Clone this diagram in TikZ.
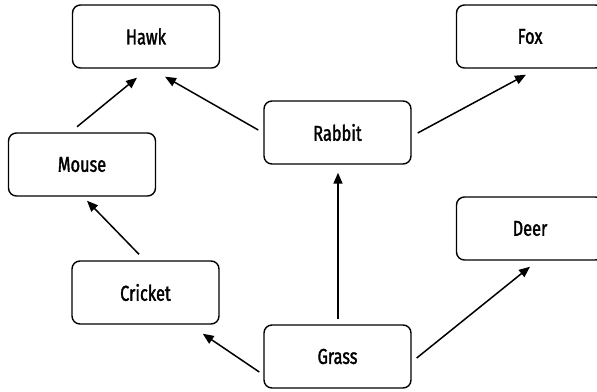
\documentclass[tikz,border=0pt]{standalone}
\usepackage{fontspec}
\setmainfont[FakeStretch=0.76,FakeBold=1.6]{Fira Sans}
\usetikzlibrary{arrows.meta}
\begin{document}
\begin{tikzpicture}[x=1pt,y=-1pt,
  animal/.style={draw, line width=1.4pt, rounded corners=8pt, minimum width=147pt, minimum height=63pt, inner sep=0pt, font=\fontsize{21.5}{24}\selectfont},
  eats/.style={line width=1.5pt, -{Triangle[length=11pt,width=9pt]}}]
\useasboundingbox (0,0) rectangle (597,391);
\clip (0,0) rectangle (597,391);
\node[animal] (hawk) at (146,36.5) {Hawk};
\node[animal] (fox) at (530,36.5) {Fox};
\node[animal] (rabbit) at (337.5,132.5) {Rabbit};
\node[animal] (mouse) at (82,164.5) {Mouse};
\node[animal] (deer) at (530,228.5) {Deer};
\node[animal] (cricket) at (145.5,292.5) {Cricket};
\node[animal] (grass) at (337.5,356.5) {Grass};
\draw[eats] ([shift={(-5,-5.5)}]mouse.north) -- ([shift={(-9,9)}]hawk.south);
\draw[eats] ([shift={(-5,-2.5)}]rabbit.west) -- ([shift={(19,8)}]hawk.south);
\draw[eats] ([shift={(6,0.5)}]rabbit.east) -- ([shift={(-4,6)}]fox.south);
\draw[eats] ([shift={(0.5,-5)}]grass.north) -- ([shift={(0.5,8)}]rabbit.south);
\draw[eats] ([shift={(-4,15.5)}]grass.west) -- ([shift={(-17,9)}]cricket.south east);
\draw[eats] ([shift={(5,1.5)}]grass.east) -- ([shift={(0,6)}]deer.south);
\draw[eats] ([shift={(-6.5,-6)}]cricket.north) -- ([shift={(5,4)}]mouse.south);
\end{tikzpicture}
\end{document}
